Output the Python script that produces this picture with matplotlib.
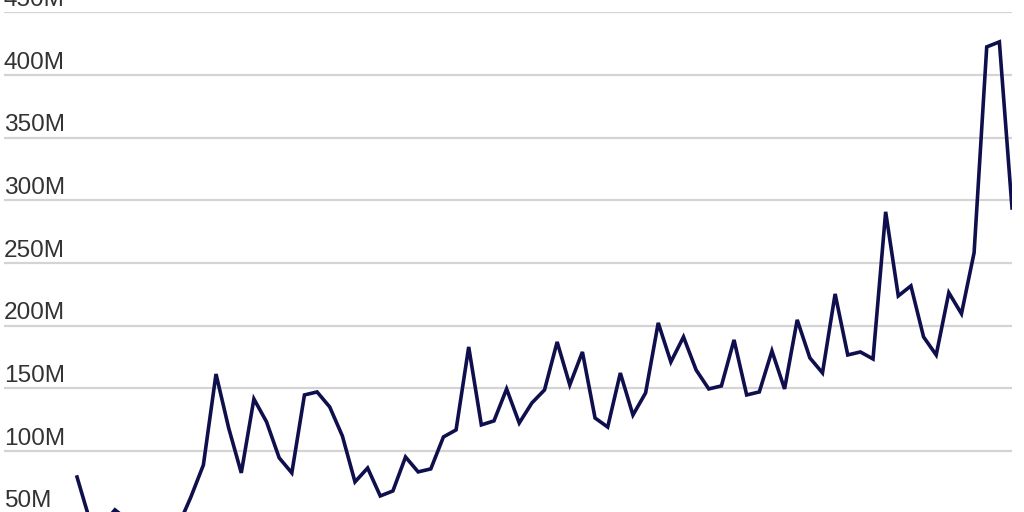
import matplotlib
matplotlib.use("Agg")
import matplotlib.pyplot as plt
import matplotlib.transforms as mtransforms

# Values in millions, one per period (75 periods)
values = [
    79.2, 45, 41, 53, 45, 40, 37, 35, 40, 63,
    88.8, 161.4, 118.4, 82.5, 141.5, 123.2, 94.5, 82.5, 144.7, 147.1,
    135.1, 112, 75.3, 86.4, 64.1, 68.1, 95.2, 83.3, 85.7, 111.2,
    116.8, 183, 120.8, 124, 149.5, 122.3, 138.3, 148.7, 187, 152.7,
    179, 126.3, 119.1, 162.2, 128.7, 146.3, 202.2, 171, 191, 164.6,
    149.5, 151.9, 188.6, 144.7, 147.1, 179.8, 149.5, 204.6, 174.3, 162.3,
    225.3, 176.6, 179, 173.4, 290.8, 223.7, 231.7, 191, 176.6, 226.3,
    209.5, 258.2, 422.4, 426.4, 293.9,
]
periods = list(range(len(values)))
tick_values = [0, 50, 100, 150, 200, 250, 300, 350, 400, 450]
tick_labels = ["0", "50M", "100M", "150M", "200M", "250M", "300M", "350M", "400M", "450M"]

W, H = 1024, 512
fig = plt.figure(figsize=(W / 100, H / 100), dpi=100)
fig.patch.set_facecolor("white")

# axes extends beyond the visible canvas at the bottom
left_px, right_px = 4, 1012
y0_px, y450_px = 576.3, 12.3  # pixel rows (from top) of 0 and 450M
bottom = (H - y0_px) / H
height = (y0_px - y450_px) / H
ax = fig.add_axes([left_px / W, bottom, (right_px - left_px) / W, height])
ax.set_ylim(0, 450)
ax.set_xlim(-5.78, 74)

for s in ax.spines.values():
    s.set_visible(False)
ax.set_xticks([])
ax.set_yticks([])

for v in tick_values:
    ax.axhline(v, color="#d4d4d4", lw=1.6, zorder=1)

trans = mtransforms.blended_transform_factory(ax.transAxes, ax.transData)
off = mtransforms.offset_copy(trans, fig=fig, x=0, y=4.5, units="points")
for v, lab in zip(tick_values, tick_labels):
    ax.text(0, v, lab, transform=off, ha="left", va="baseline",
            fontsize=17.6, color="#333333", family="Liberation Sans")

ax.plot(periods, values, color="#0f0f4d", lw=2.6, solid_joinstyle="miter",
        zorder=3)

fig.savefig("out.png", dpi=100, facecolor="white")
